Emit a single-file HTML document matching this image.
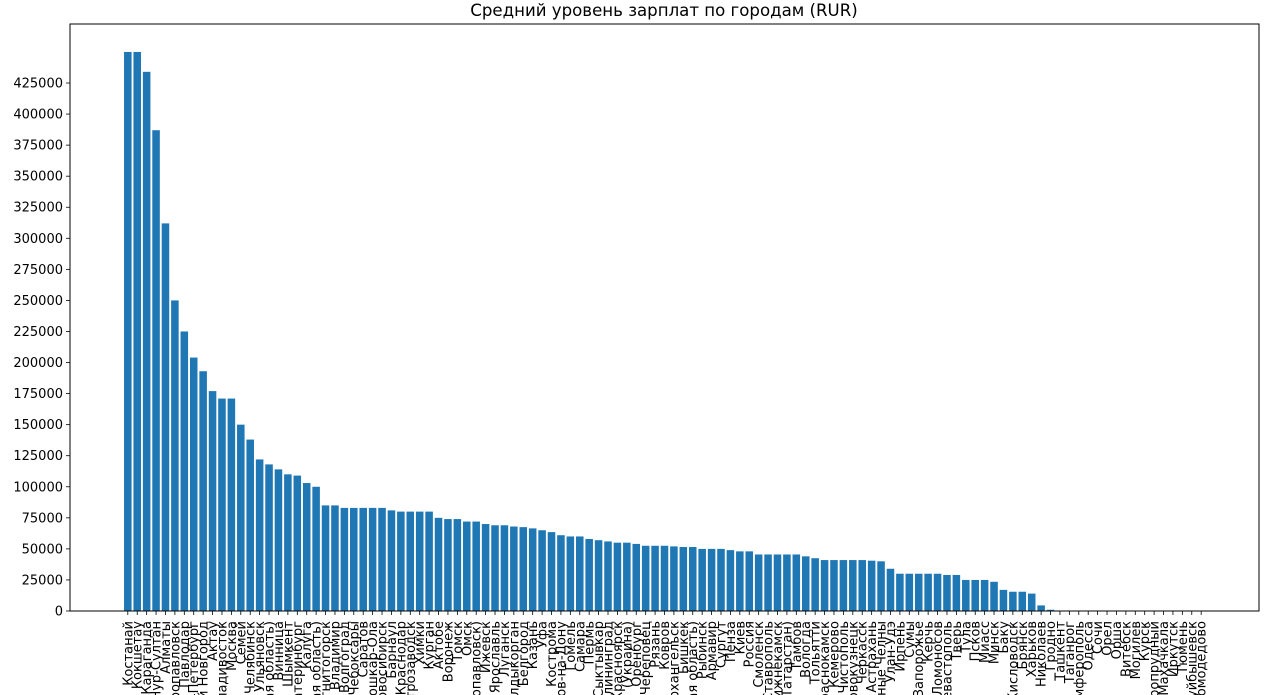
<!DOCTYPE html>
<html><head><meta charset="utf-8"><style>
body{margin:0;background:#fff;overflow:hidden}
svg{display:block;font-family:"DejaVu Sans","Liberation Sans",sans-serif}
</style></head><body>
<svg id="chart" width="1264" height="695" xmlns="http://www.w3.org/2000/svg" overflow="hidden">
<text x="664" y="16" font-size="16.6" text-anchor="middle">Средний уровень зарплат по городам (RUR)</text>
<g id="bars"></g>
<g id="xaxis"></g>
<g id="yaxis"></g>
<rect x="70" y="24" width="1189" height="587" fill="none" stroke="#000" stroke-width="1"/>
</svg>
<script>
const categories=["Костанай","Кокшетау","Караганда","Нур-Султан","Алматы","Петропавловск","Павлодар","Санкт-Петербург","Великий Новгород","Актау","Владивосток","Москва","Семей","Челябинск","Ульяновск","(Московская область)","Винница","Шымкент","Екатеринбург","Калуга","(Ленинградская область)","Магнитогорск","Владимир","Волгоград","Чебоксары","Саратов","Йошкар-Ола","Новосибирск",
"Барнаул","Краснодар","Петрозаводск","Химки","Курган","Актобе","Воронеж","Томск","Омск","(Петропавловск)","Ижевск","Ярославль","Луганск","Талдыкорган","Белгород","Казань","Уфа","Кострома","Ростов-на-Дону","Гомель","Самара","Пермь","Сыктывкар","Калининград","Красноярск","(Украина)","Оренбург","Череповец","Рязань",
"Ковров","Архангельск","Бишкек","(Нижегородская область)","Рыбинск","Армавир","Сургут","Пенза","Киев","Россия","Смоленск","Ставрополь","Нижнекамск","(Татарстан)","Тамбов","Вологда","Тольятти","Краснокамск","Кемерово","Чистополь","Новокузнецк","Черкасск","Астрахань","Набережные Челны","Улан-Удэ","Ирпень","Сумы","Запорожье","Керчь",
"Ломоносов","Севастополь","Тверь","Тула","Псков","Миасс","Минск","Баку","Кисловодск","Брянск","Харьков","Николаев","Гродно","Ташкент","Таганрог","Симферополь","Одесса","Сочи","Орел","Орша","Витебск","Могилев","Курск","Старопрудный","Махачкала","Иркутск","Тюмень","Новокуйбышевск","Домодедово"];
const salaries=[450000,450000,434000,387000,312000,250000,225000,204000,193000,177000,171000,171000,150000,138000,122000,118000,114000,110000,109000,103000,100000,85000,85000,83000,83000,83000,83000,83000,
81000,80000,80000,80000,80000,75000,74000,74000,72000,72000,70000,69000,69000,68000,67500,66500,65000,63500,61000,60000,60000,58000,57000,56000,55000,55000,54000,52500,52500,
52500,52000,51500,51500,50000,50000,50000,49000,48000,48000,45500,45500,45500,45500,45500,44000,42500,41000,41000,41000,41000,41000,40500,40000,34000,30000,30000,30000,30000,
30000,29000,29000,25000,25000,25000,23500,17000,15500,15500,14000,4500,1000,300,0,0,0,0,0,0,0,0,0,0,0,0,0,0,0];
const yTicks=[0,25000,50000,75000,100000,125000,150000,175000,200000,225000,250000,275000,300000,325000,350000,375000,400000,425000];

const NS="http://www.w3.org/2000/svg";
const L=70,R=1259,T=24,B=611;
const n=categories.length;
const maxV=Math.max(...salaries);
const yMax=maxV*1.05;
const xMin=-0.4-0.05*(n-0.2), xMax=n-0.6+0.05*(n-0.2);
function xs(i){return L+(i-xMin)/(xMax-xMin)*(R-L);}
function ys(v){return B-v/yMax*(B-T);}
const bw=0.8*(R-L)/(xMax-xMin);
const bars=document.getElementById('bars'),xa=document.getElementById('xaxis'),ya=document.getElementById('yaxis');
function mk(t,a){const e=document.createElementNS(NS,t);for(const k in a)e.setAttribute(k,a[k]);return e;}
salaries.forEach((v,i)=>{
  const y=ys(v);
  const r=mk('rect',{x:xs(i)-bw/2,y:y,width:bw,height:B-y,fill:'#1f77b4'});
  
  
  bars.appendChild(r);
});
categories.forEach((c,i)=>{
  const x=xs(i);
  const tk=mk('line',{x1:x,x2:x,y1:B,y2:B+4,stroke:'#000','stroke-width':0.8});
  
  
  xa.appendChild(tk);
  const t=mk('text',{x:0,y:0,'font-size':13,'text-anchor':'end',transform:`translate(${x+4.5},${B+10}) rotate(-90)`});
  t.textContent=c;
  
  
  xa.appendChild(t);
});
yTicks.forEach(v=>{
  const y=ys(v);
  const tk=mk('line',{x1:L-4,x2:L,y1:y,y2:y,stroke:'#000','stroke-width':0.8});
  
  
  ya.appendChild(tk);
  const t=mk('text',{x:L-7,y:y+4.5,'font-size':13,'text-anchor':'end'});
  t.textContent=v;
  
  
  ya.appendChild(t);
});
</script>
</body></html>
